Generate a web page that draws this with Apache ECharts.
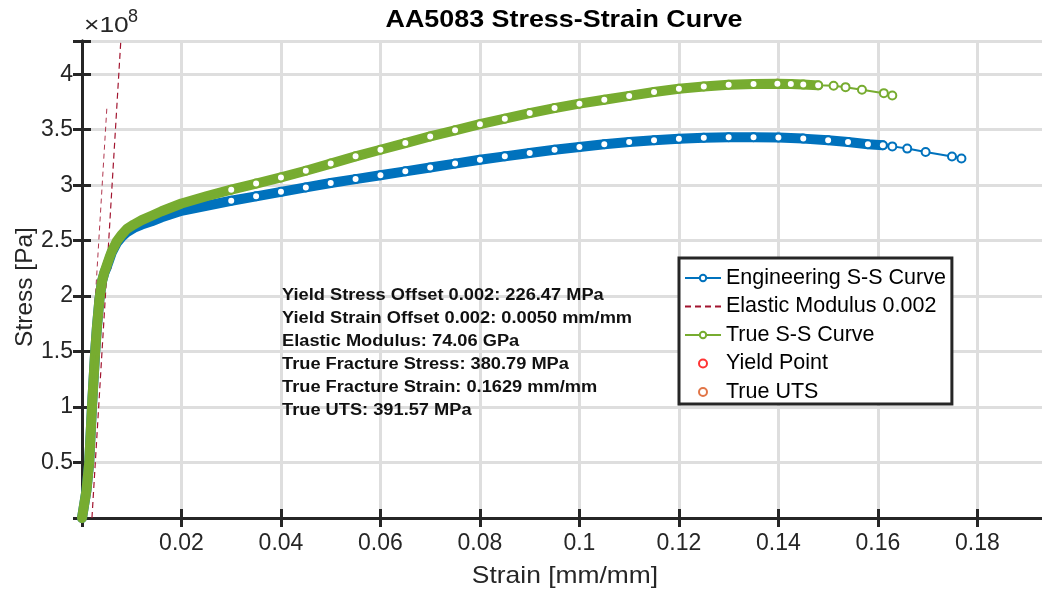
<!DOCTYPE html>
<html>
<head>
<meta charset="utf-8">
<title>AA5083 Stress-Strain Curve</title>
<script src="https://cdn.jsdelivr.net/npm/echarts@6/dist/echarts.min.js"></script>
<style>
  html, body { margin: 0; padding: 0; background: #fff; }
  #chart { width: 1042px; height: 592px; }
</style>
</head>
<body>
<div id="chart"></div>
<script>
// ---- Engineering stress-strain curve (strain mm/mm, stress MPa) ----
const engStrain = [0, 0.0009, 0.00145, 0.002, 0.00265, 0.003, 0.0035, 0.004, 0.0045, 0.005, 0.0055, 0.006, 0.007,
  0.008, 0.009, 0.0104, 0.012, 0.014, 0.016,
  0.02, 0.025, 0.03, 0.035, 0.04, 0.045, 0.05, 0.055, 0.06, 0.065, 0.07, 0.075, 0.08, 0.085, 0.09, 0.095,
  0.1, 0.105, 0.11, 0.115, 0.12, 0.125, 0.13, 0.135, 0.14, 0.145, 0.15, 0.154, 0.158, 0.161,
  0.1629, 0.1659, 0.1696, 0.1749, 0.1768];
const engStress = [0, 25, 50, 100, 150, 172, 197, 213, 221, 226.5, 233, 239.5, 248,
  253.5, 257.5, 261.5, 264.5, 267.5, 271,
  277, 281.5, 286, 290, 294, 298, 302, 305.5, 309, 312.5, 316, 319.5, 323, 326, 329, 332,
  334.5, 337, 339, 340.5, 341.8, 342.8, 343.3, 343.3, 343, 342, 340.5, 339, 337, 336,
  335, 333, 330, 325.9, 324.1];

// ---- True stress-strain curve ----
const trueStrain = [0, 0.0009, 0.00145, 0.002, 0.00265, 0.003, 0.0035, 0.004, 0.0045, 0.005, 0.0055, 0.006, 0.007,
  0.008, 0.009, 0.0104, 0.012, 0.014, 0.016,
  0.02, 0.025, 0.03, 0.035, 0.04, 0.045, 0.05, 0.055, 0.06, 0.065, 0.07, 0.075, 0.08, 0.085, 0.09, 0.095,
  0.1, 0.105, 0.11, 0.115, 0.12, 0.125, 0.13, 0.135, 0.1398, 0.1425, 0.145, 0.148,
  0.1511, 0.1535, 0.1568, 0.1612, 0.1629];
const trueStress = [0, 25, 50, 100, 150, 172, 197, 213, 221.5, 228, 234.5, 240.5, 249.5,
  255.5, 260.5, 264.5, 268.5, 272.5, 276.5,
  283.5, 290, 296, 301.5, 307, 313, 319.5, 326, 332, 338, 344, 349.5, 355, 360, 365, 369.5,
  373.5, 377, 380.5, 384, 387, 389, 390.5, 391.3, 391.57, 391.2, 390.7, 390,
  389.6, 388.4, 386, 383, 380.8];

// ---- Elastic lines: 0.2% offset line and the line through the origin ----
const offsetLineStrain = [0.002, 0.0078];
const offsetLineStress = [0, 430];
const elasticLineStrain = [0, 0.005];
const elasticLineStress = [0, 370];

// ---- Marked points ----
const yieldPoint = [0.005, 226.47];
const trueUtsPoint = [0.1398, 391.57];

// ---- Tick labels ----
const xTickValues = [0.02, 0.04, 0.06, 0.08, 0.1, 0.12, 0.14, 0.16, 0.18];
const xTickLabels = ['0.02', '0.04', '0.06', '0.08', '0.1', '0.12', '0.14', '0.16', '0.18'];
const yTickValues = [0.5e8, 1e8, 1.5e8, 2e8, 2.5e8, 3e8, 3.5e8, 4e8];
const yTickLabels = ['0.5', '1', '1.5', '2', '2.5', '3', '3.5', '4'];

// ---- Text ----
const chartTitle = 'AA5083 Stress-Strain Curve';
const xAxisTitle = 'Strain [mm/mm]';
const yAxisTitle = 'Stress [Pa]';
const exponentBase = '×10';
const exponentPower = '8';
const legendNames = ['Engineering S-S Curve', 'Elastic Modulus 0.002', 'True S-S Curve', 'Yield Point', 'True UTS'];
const resultLines = [
  'Yield Stress Offset 0.002: 226.47 MPa',
  'Yield Strain Offset 0.002: 0.0050 mm/mm',
  'Elastic Modulus: 74.06 GPa',
  'True Fracture Stress: 380.79 MPa',
  'True Fracture Strain: 0.1629 mm/mm',
  'True UTS: 391.57 MPa'
];

const MPA = 1e6;
const toPairs = (xs, ys) => xs.map((x, i) => [x, ys[i] * MPA]);
const engData = toPairs(engStrain, engStress);
const trueData = toPairs(trueStrain, trueStress);

// Dense part of each curve is rendered as a thick band; sparse tail shows open circles
const engBandEnd = 0.161;
const trueBandEnd = 0.148;
const markerStart = 0.03;

const labelFor = (values, labels) => v => {
  for (let i = 0; i < values.length; i++) {
    if (Math.abs(v - values[i]) < Math.abs(values[i]) * 1e-6) return labels[i];
  }
  return '';
};

const FONT = '"Liberation Sans", Arial, Helvetica, sans-serif';
const AXIS_COLOR = '#262626';
const BLUE = '#0072BD';
const GREEN = '#77AC30';
const DARKRED = '#A2142F';

const X_MAX = 0.1938;
const Y_MAX = 4.3e8;

const axisLineStyle = { show: true, lineStyle: { color: AXIS_COLOR, width: 3 } };
const tickStyle = { show: true, inside: true, length: 9, lineStyle: { color: AXIS_COLOR, width: 3 } };

const chart = echarts.init(document.getElementById('chart'), null, { renderer: 'canvas' });

chart.setOption({
  backgroundColor: '#fff',
  animation: false,
  grid: { left: 82, top: 41, width: 964, height: 477, containLabel: false, outerBoundsMode: 'none' },
  xAxis: [{
    type: 'value', min: 0, max: X_MAX, interval: 0.02, position: 'bottom',
    axisLine: axisLineStyle, axisTick: tickStyle,
    axisLabel: { formatter: labelFor(xTickValues, xTickLabels), fontFamily: FONT, fontSize: 23, color: AXIS_COLOR, margin: 14 },
    splitLine: { show: true, lineStyle: { color: '#dedede', width: 3 } }
  }, {
    type: 'value', min: 0, max: X_MAX, interval: 0.02, position: 'top',
    axisLine: axisLineStyle, axisTick: tickStyle,
    axisLabel: { show: false }, splitLine: { show: false }
  }],
  yAxis: [{
    type: 'value', min: 0, max: Y_MAX, interval: 0.5e8, position: 'left',
    axisLine: axisLineStyle, axisTick: tickStyle,
    axisLabel: { formatter: labelFor(yTickValues, yTickLabels), fontFamily: FONT, fontSize: 23, color: AXIS_COLOR, margin: 9 },
    splitLine: { show: true, lineStyle: { color: '#dedede', width: 3 } }
  }, {
    type: 'value', min: 0, max: Y_MAX, interval: 0.5e8, position: 'right',
    axisLine: axisLineStyle, axisTick: tickStyle,
    axisLabel: { show: false }, splitLine: { show: false }
  }],
  legend: {
    data: [
      legendNames[0],
      { name: legendNames[1], itemStyle: { opacity: 0 } },
      legendNames[2],
      { name: legendNames[3], itemStyle: { borderWidth: 2.5 } },
      { name: legendNames[4], itemStyle: { borderWidth: 2.5 } }
    ],
    orient: 'vertical',
    left: 679, top: 258,
    backgroundColor: '#fff',
    borderColor: AXIS_COLOR, borderWidth: 3, borderRadius: 0,
    padding: [9, 6, 1, 5],
    itemGap: 6.5,
    itemWidth: 36, itemHeight: 8,
    selectedMode: false,
    textStyle: { fontFamily: FONT, fontSize: 21.5, color: '#000' }
  },
  graphic: [{
    type: 'text', x: 564, y: 20, scaleX: 1.12, z: 100, silent: true,
    style: { text: chartTitle, fontFamily: FONT, fontSize: 24, fontWeight: 'bold', fill: '#000', align: 'center', verticalAlign: 'middle' }
  }, {
    type: 'text', x: 282, y: 284, scaleX: 1.14, z: 100, silent: true,
    style: { text: resultLines.join('\n'), fontFamily: FONT, fontSize: 16, fontWeight: 'bold', fill: '#111', lineHeight: 23 }
  }, {
    type: 'text', x: 25, y: 287, rotation: Math.PI / 2, z: 100, silent: true,
    style: { text: yAxisTitle, fontFamily: FONT, fontSize: 24.5, fill: AXIS_COLOR, align: 'center', verticalAlign: 'middle' }
  }, {
    type: 'text', x: 565, y: 576, scaleX: 1.1, z: 100, silent: true,
    style: { text: xAxisTitle, fontFamily: FONT, fontSize: 24, fill: AXIS_COLOR, align: 'center', verticalAlign: 'middle' }
  }, {
    type: 'text', x: 84, y: 26, scaleX: 1.2, z: 100, silent: true,
    style: { text: exponentBase, fontFamily: FONT, fontSize: 22, fill: AXIS_COLOR, align: 'left', verticalAlign: 'middle' }
  }, {
    type: 'text', x: 128, y: 17, z: 100, silent: true,
    style: { text: exponentPower, fontFamily: FONT, fontSize: 18, fill: AXIS_COLOR, align: 'left', verticalAlign: 'middle' }
  }],
  series: [{
    name: 'engBand', type: 'line', silent: true,
    data: engData.filter(p => p[0] <= engBandEnd),
    showSymbol: false, symbol: 'none',
    lineStyle: { color: BLUE, width: 10, cap: 'round', join: 'round' }
  }, {
    name: legendNames[0], type: 'line',
    data: engData,
    symbol: 'emptyCircle',
    symbolSize: v => (v[0] >= markerStart ? 8 : 0),
    itemStyle: { color: BLUE, borderWidth: 2 },
    lineStyle: { color: BLUE, width: 2 }
  }, {
    name: 'elasticLine', type: 'line', silent: true,
    data: toPairs(elasticLineStrain, elasticLineStress),
    symbol: 'none',
    lineStyle: { color: DARKRED, width: 1, type: [5, 4], opacity: 0.85 }
  }, {
    name: legendNames[1], type: 'line',
    data: toPairs(offsetLineStrain, offsetLineStress),
    symbol: 'none',
    itemStyle: { color: DARKRED, opacity: 0 },
    lineStyle: { color: DARKRED, width: 1.2, type: [6, 4] }
  }, {
    name: 'trueBand', type: 'line', silent: true,
    data: trueData.filter(p => p[0] <= trueBandEnd),
    showSymbol: false, symbol: 'none',
    lineStyle: { color: GREEN, width: 10, cap: 'round', join: 'round' }
  }, {
    name: legendNames[2], type: 'line',
    data: trueData,
    symbol: 'emptyCircle',
    symbolSize: v => (v[0] >= markerStart ? 8 : 0),
    itemStyle: { color: GREEN, borderWidth: 2 },
    lineStyle: { color: GREEN, width: 2 }
  }, {
    name: legendNames[3], type: 'scatter',
    data: [[yieldPoint[0], yieldPoint[1] * MPA]],
    symbol: 'emptyCircle', symbolSize: 8,
    itemStyle: { color: '#FF0000', borderWidth: 2 }
  }, {
    name: legendNames[4], type: 'scatter',
    data: [[trueUtsPoint[0], trueUtsPoint[1] * MPA]],
    symbol: 'emptyCircle', symbolSize: 8,
    itemStyle: { color: '#D95319', borderWidth: 2 }
  }]
});
</script>
</body>
</html>
